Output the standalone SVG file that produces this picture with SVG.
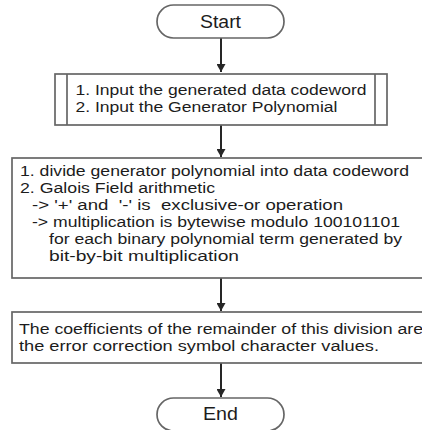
<svg xmlns="http://www.w3.org/2000/svg" width="422" height="430" viewBox="0 0 422 430">
<defs>
<marker id="ah" viewBox="0 0 8 9" refX="8" refY="4.5" markerWidth="8" markerHeight="9" orient="auto" markerUnits="userSpaceOnUse">
<path d="M0,0 L8,4.5 L0,9 z" fill="#262626"/>
</marker>
<style>
.box{fill:#fff;stroke:#666;stroke-width:1.7}
.t{font-family:"Liberation Sans",Arial,sans-serif;font-size:14px;fill:#1c1c1c}
.tt{font-family:"Liberation Sans",Arial,sans-serif;font-size:17.5px;fill:#1c1c1c}
.c{stroke:#262626;stroke-width:2;fill:none}
</style>
</defs>
<rect width="422" height="430" fill="#fff"/>
<g id="connectors">
<line class="c" x1="221" y1="38" x2="221" y2="72" marker-end="url(#ah)"/>
<line class="c" x1="221" y1="125" x2="221" y2="157" marker-end="url(#ah)"/>
<line class="c" x1="221" y1="278" x2="221" y2="311" marker-end="url(#ah)"/>
<line class="c" x1="221" y1="363" x2="221" y2="397" marker-end="url(#ah)"/>
</g>
<g id="start">
<rect class="box" x="157" y="5" width="127" height="33" rx="16.5" ry="16.5"/>
<text class="tt" x="200" y="28" textLength="41" lengthAdjust="spacingAndGlyphs">Start</text>
</g>
<g id="input">
<rect class="box" x="55" y="74" width="332" height="51"/>
<line x1="67" y1="74" x2="67" y2="125" stroke="#666" stroke-width="1.7"/>
<line x1="375" y1="74" x2="375" y2="125" stroke="#666" stroke-width="1.7"/>
<text class="t" x="75.5" y="95" textLength="291" lengthAdjust="spacingAndGlyphs">1. Input the generated data codeword</text>
<text class="t" x="75.5" y="112" textLength="262" lengthAdjust="spacingAndGlyphs">2. Input the Generator Polynomial</text>
</g>
<g id="process">
<rect class="box" x="12" y="158" width="420" height="120"/>
<text class="t" x="20" y="176" textLength="389" lengthAdjust="spacingAndGlyphs">1. divide generator polynomial into data codeword</text>
<text class="t" x="20" y="193" textLength="195" lengthAdjust="spacingAndGlyphs">2. Galois Field arithmetic</text>
<text class="t" x="32" y="210" textLength="311" lengthAdjust="spacingAndGlyphs" xml:space="preserve">-&gt; '+' and  '-' is  exclusive-or operation</text>
<text class="t" x="32" y="227" textLength="368" lengthAdjust="spacingAndGlyphs">-&gt; multiplication is bytewise modulo 100101101</text>
<text class="t" x="49" y="244" textLength="353" lengthAdjust="spacingAndGlyphs">for each binary polynomial term generated by</text>
<text class="t" x="49" y="261" textLength="190" lengthAdjust="spacingAndGlyphs">bit-by-bit multiplication</text>
</g>
<g id="result">
<rect class="box" x="12" y="312" width="420" height="51"/>
<text class="t" x="19" y="334" textLength="404" lengthAdjust="spacingAndGlyphs">The coefficients of the remainder of this division are</text>
<text class="t" x="19" y="351" textLength="360" lengthAdjust="spacingAndGlyphs">the error correction symbol character values.</text>
</g>
<g id="end">
<rect class="box" x="157" y="398" width="127" height="33" rx="16.5" ry="16.5"/>
<text class="tt" x="203" y="420" textLength="35" lengthAdjust="spacingAndGlyphs">End</text>
</g>
</svg>
